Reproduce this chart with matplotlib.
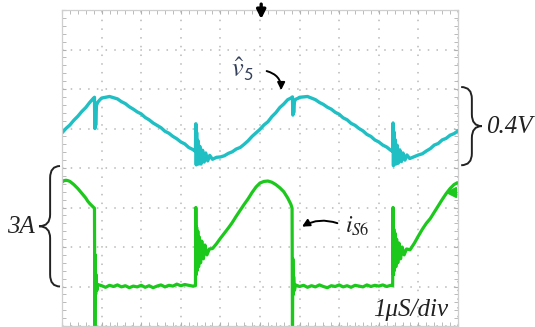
import matplotlib
matplotlib.use("Agg")
import matplotlib.pyplot as plt
from matplotlib.path import Path
from matplotlib.patches import PathPatch
from matplotlib.ticker import MultipleLocator

plt.rcParams['mathtext.fontset'] = 'stix'

# cyan trace (v5), time in divisions, amplitude in divisions
t_v = [0.00, 0.10, 0.20, 0.30, 0.40, 0.50, 0.60, 0.70, 0.78, 0.82,
       0.83, 0.84, 0.85, 0.87, 0.90, 0.95, 1.00, 1.10, 1.20, 1.30,
       1.40, 1.50, 1.60, 1.70, 1.80, 1.90, 2.00, 2.10, 2.20, 2.30,
       2.40, 2.50, 2.60, 2.70, 2.80, 2.90, 3.00, 3.10, 3.20, 3.30,
       3.37, 3.38, 3.39, 3.40, 3.41, 3.43, 3.45, 3.48, 3.51, 3.55,
       3.59, 3.63, 3.68, 3.73, 3.80, 3.90, 4.00, 4.10, 4.20, 4.30,
       4.40, 4.50, 4.60, 4.70, 4.80, 4.90, 5.00, 5.10, 5.20, 5.30,
       5.40, 5.50, 5.60, 5.70, 5.78, 5.82, 5.83, 5.84, 5.85, 5.87,
       5.90, 5.95, 6.00, 6.10, 6.20, 6.30, 6.40, 6.50, 6.60, 6.70,
       6.80, 6.90, 7.00, 7.10, 7.20, 7.30, 7.40, 7.50, 7.60, 7.70,
       7.80, 7.90, 8.00, 8.10, 8.20, 8.30, 8.35, 8.36, 8.37, 8.38,
       8.39, 8.41, 8.43, 8.46, 8.49, 8.53, 8.57, 8.61, 8.66, 8.71,
       8.78, 8.88, 9.00, 9.10, 9.20, 9.30, 9.40, 9.50, 9.60, 9.70,
       9.80, 9.90, 10.0]
v5 = [0.89, 1.00, 1.09, 1.21, 1.31, 1.43, 1.53, 1.66, 1.75, 1.79,
      1.00, 1.50, 1.08, 1.58, 1.66, 1.72, 1.77, 1.79, 1.81, 1.78,
      1.75, 1.68, 1.63, 1.55, 1.49, 1.42, 1.37, 1.28, 1.22, 1.14,
      1.08, 1.02, 0.93, 0.88, 0.80, 0.74, 0.66, 0.61, 0.52, 0.47,
      0.42, 1.12, 0.08, 0.90, 0.15, 0.70, 0.10, 0.55, 0.10, 0.45,
      0.15, 0.38, 0.18, 0.32, 0.22, 0.27, 0.28, 0.31, 0.37, 0.41,
      0.48, 0.52, 0.60, 0.69, 0.80, 0.89, 0.98, 1.09, 1.17, 1.30,
      1.40, 1.53, 1.62, 1.73, 1.77, 1.80, 1.34, 1.62, 1.40, 1.68,
      1.74, 1.76, 1.79, 1.80, 1.81, 1.77, 1.73, 1.66, 1.61, 1.54,
      1.49, 1.41, 1.36, 1.27, 1.22, 1.13, 1.08, 1.00, 0.94, 0.85,
      0.80, 0.71, 0.66, 0.58, 0.53, 0.45, 0.42, 1.14, 0.06, 0.92,
      0.14, 0.72, 0.10, 0.58, 0.12, 0.46, 0.16, 0.38, 0.20, 0.33,
      0.24, 0.28, 0.33, 0.36, 0.43, 0.49, 0.58, 0.62, 0.71, 0.75,
      0.83, 0.87, 0.94]

# green trace (iS6)
t_i = [0.00, 0.05, 0.10, 0.15, 0.20, 0.25, 0.30, 0.35, 0.40, 0.45,
       0.50, 0.55, 0.60, 0.65, 0.70, 0.75, 0.80, 0.82, 0.83, 0.84,
       0.85, 0.86, 0.88, 0.90, 1.00, 1.10, 1.20, 1.30, 1.40, 1.50,
       1.60, 1.70, 1.80, 1.90, 2.00, 2.10, 2.20, 2.30, 2.40, 2.50,
       2.60, 2.70, 2.80, 2.90, 3.00, 3.10, 3.20, 3.30, 3.37, 3.38,
       3.39, 3.40, 3.41, 3.43, 3.45, 3.47, 3.50, 3.53, 3.57, 3.61,
       3.66, 3.72, 3.80, 3.90, 4.00, 4.10, 4.20, 4.30, 4.40, 4.50,
       4.60, 4.70, 4.80, 4.90, 5.00, 5.10, 5.20, 5.30, 5.40, 5.50,
       5.60, 5.70, 5.78, 5.81, 5.82, 5.83, 5.84, 5.85, 5.87, 5.90,
       6.00, 6.10, 6.20, 6.30, 6.40, 6.50, 6.60, 6.70, 6.80, 6.90,
       7.00, 7.10, 7.20, 7.30, 7.40, 7.50, 7.60, 7.70, 7.80, 7.90,
       8.00, 8.10, 8.20, 8.30, 8.35, 8.36, 8.37, 8.38, 8.39, 8.41,
       8.43, 8.45, 8.48, 8.51, 8.55, 8.59, 8.64, 8.70, 8.79, 8.90,
       9.00, 9.10, 9.20, 9.30, 9.40, 9.50, 9.60, 9.70, 9.80, 9.90,
       9.97]
i_s6 = [-0.36, -0.32, -0.31, -0.32, -0.34, -0.38, -0.42, -0.47, -0.52, -0.58,
        -0.64, -0.70, -0.76, -0.84, -0.90, -0.95, -1.00, -1.02, -4.20, -2.20,
        -3.20, -2.70, -3.10, -2.95, -2.98, -3.02, -2.97, -3.00, -2.96, -3.01,
        -2.98, -3.03, -2.99, -3.01, -2.97, -3.02, -2.98, -3.03, -2.99, -2.96,
        -3.01, -2.97, -2.99, -2.94, -2.98, -2.95, -2.97, -2.99, -2.98, -1.00,
        -2.70, -1.50, -2.60, -1.60, -2.50, -1.75, -2.40, -1.85, -2.30, -1.95,
        -2.20, -2.05, -2.04, -1.92, -1.78, -1.65, -1.52, -1.38, -1.22, -1.07,
        -0.92, -0.78, -0.62, -0.48, -0.38, -0.34, -0.33, -0.36, -0.42, -0.50,
        -0.60, -0.76, -0.92, -1.02, -4.20, -2.30, -3.20, -2.75, -3.10, -2.96,
        -3.00, -2.97, -3.02, -2.98, -3.01, -2.96, -3.00, -3.03, -2.98, -3.00,
        -2.96, -3.01, -2.98, -3.02, -2.97, -2.99, -3.01, -2.96, -3.00, -2.97,
        -2.99, -2.96, -3.00, -2.97, -2.98, -1.00, -2.70, -1.55, -2.60, -1.65,
        -2.50, -1.80, -2.40, -1.90, -2.30, -2.00, -2.20, -2.05, -2.07, -1.90,
        -1.72, -1.55, -1.40, -1.28, -1.12, -0.96, -0.80, -0.65, -0.52, -0.42,
        -0.38]

cyan = '#1fbfc3'
green = '#1cc81c'
ink = '#222222'
serif = ['Liberation Serif', 'DejaVu Serif']


def brace(ax, x_end, x_spine, x_tip, y0, y1):
    ym = (y0 + y1) / 2
    r = 0.3
    verts = [(x_end, y1), (x_spine, y1), (x_spine, y1 - r),
             (x_spine, ym + r), (x_spine, ym), (x_tip, ym),
             (x_spine, ym), (x_spine, ym - r),
             (x_spine, y0 + r), (x_spine, y0), (x_end, y0)]
    codes = [Path.MOVETO, Path.CURVE3, Path.CURVE3,
             Path.LINETO, Path.CURVE3, Path.CURVE3,
             Path.CURVE3, Path.CURVE3,
             Path.LINETO, Path.CURVE3, Path.CURVE3]
    p = PathPatch(Path(verts, codes), fill=False, ec=ink, lw=1.4, clip_on=False)
    ax.add_patch(p)


fig = plt.figure(figsize=(5.35, 3.27), dpi=100)
ax = fig.add_axes([62 / 535, 1 - 326 / 327, 396 / 535, 316 / 327])
ax.set_xlim(0, 10)
ax.set_ylim(-4, 4)

ax.xaxis.set_major_locator(MultipleLocator(1))
ax.yaxis.set_major_locator(MultipleLocator(1))
ax.xaxis.set_minor_locator(MultipleLocator(0.2))
ax.yaxis.set_minor_locator(MultipleLocator(0.2))
ax.tick_params(which='both', direction='in', length=3, color='#b0b0b0',
               top=True, right=True, labelbottom=False, labelleft=False)
ax.grid(True, which='major', color='#b8b8b8', lw=1.1, ls=(0, (1.0, 4.7)))
for s in ax.spines.values():
    s.set_color('#cfcfcf')
    s.set_linewidth(0.9)

ax.plot(t_v, v5, color=cyan, lw=2.4)
ax.plot(t_i, i_s6, color=green, lw=2.3)
ax.plot([9.82], [-0.61], marker='<', color=green, ms=7)

# trigger marker
ax.annotate('', xy=(5.03, 3.7), xytext=(5.03, 4.22), annotation_clip=False,
            arrowprops=dict(arrowstyle='-|>', color='black', lw=2.4, mutation_scale=13))

ax.text(4.55, 2.5, r'$\hat{v}_{\mathsf{5}}$', fontsize=19, color='#34405a',
        ha='center', va='center')
ax.annotate('', xy=(5.53, 1.9), xytext=(5.1, 2.47),
            arrowprops=dict(arrowstyle='-|>', color='black', lw=1.4,
                            connectionstyle='arc3,rad=-0.45', mutation_scale=11))

ax.text(7.45, -1.47, r'$i_{S6}$', fontsize=17, color=ink, ha='center', va='center')
ax.annotate('', xy=(6.0, -1.52), xytext=(7.02, -1.42),
            arrowprops=dict(arrowstyle='-|>', color='black', lw=1.4,
                            connectionstyle='arc3,rad=0.25', mutation_scale=11))

ax.text(9.75, -3.6, '1\u03bcS/div', fontsize=18, family=serif,
        style='italic', color=ink, ha='right', va='center')

brace(ax, 10.08, 10.35, 10.6, 0.07, 2.05)
ax.text(10.7, 1.05, '0.4V', fontsize=18, family=serif,
        style='italic', color=ink, ha='left', va='center', clip_on=False)

brace(ax, -0.05, -0.3, -0.58, -3.0, 0.05)
ax.text(-0.68, -1.5, '3A', fontsize=18, family=serif,
        style='italic', color=ink, ha='right', va='center', clip_on=False)

fig.savefig('out.png', dpi=100)
